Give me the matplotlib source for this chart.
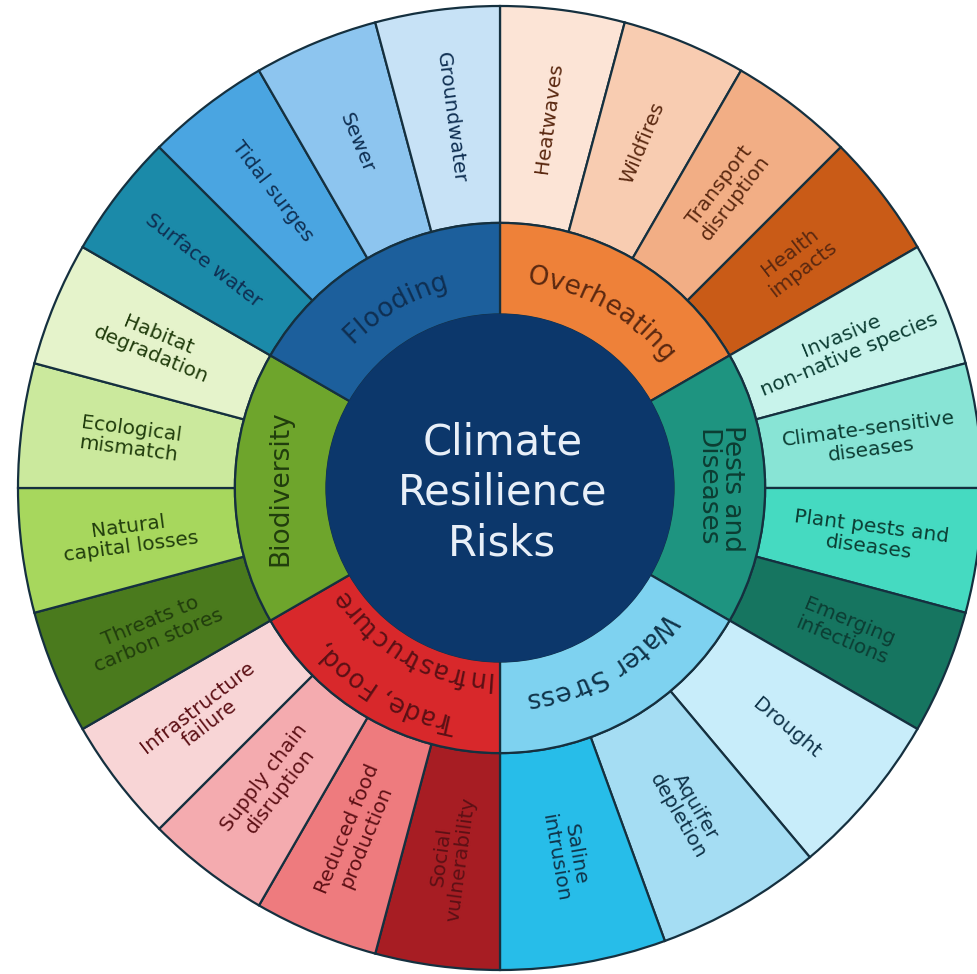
import numpy as np
import matplotlib
matplotlib.use("Agg")
import matplotlib.pyplot as plt
from matplotlib.font_manager import FontProperties
from matplotlib.textpath import TextToPath

# categories, clockwise from 12 o'clock
categories = ["Overheating", "Pests and\nDiseases", "Water Stress",
              "Trade, Food,\nInfrastructure", "Biodiversity", "Flooding"]
category_share = [1, 1, 1, 1, 1, 1]

risks = [
    ["Heatwaves", "Wildfires", "Transport\ndisruption", "Health\nimpacts"],
    ["Invasive\nnon-native species", "Climate-sensitive\ndiseases",
     "Plant pests and\ndiseases", "Emerging\ninfections"],
    ["Drought", "Aquifer\ndepletion", "Saline\nintrusion"],
    ["Social\nvulnerability", "Reduced food\nproduction", "Supply chain\ndisruption",
     "Infrastructure\nfailure"],
    ["Threats to\ncarbon stores", "Natural\ncapital losses", "Ecological\nmismatch",
     "Habitat\ndegradation"],
    ["Surface water", "Tidal surges", "Sewer", "Groundwater"],
]

cat_colors = ["#ee8139", "#1e9480", "#7ed2f0", "#d8282b", "#6ea52c", "#1c5f9c"]
risk_colors = [
    ["#fce4d6", "#f8ccb1", "#f2ae85", "#c95b17"],
    ["#c8f3eb", "#88e4d5", "#45dac1", "#167560"],
    ["#c8edfa", "#a5ddf3", "#27bde9"],
    ["#a71d23", "#ee7b7e", "#f4abaf", "#f8d5d6"],
    ["#4a7a1d", "#a7d75d", "#cbe99d", "#e5f3cb"],
    ["#1b8aa9", "#4aa5e1", "#8dc5ef", "#c7e2f6"],
]
text_colors = ["#5a2810", "#0c3d33", "#10344a", "#5c1015", "#213d0d", "#0f2f52"]
center_text = "Climate\nResilience\nRisks"

FONT = "DejaVu Sans"
EDGE = "#15303f"
R_OUT, R_MID, R_IN = 1.0, 0.55, 0.36
PX = 100 / 72 / 482.0  # points -> data units (outer radius = 482 px)

fig = plt.figure(figsize=(9.77, 9.74), dpi=100)
ax = fig.add_axes([0, 0, 1, 1])

flat_risks = [r for grp in risks for r in grp]
flat_cols = [c for grp in risk_colors for c in grp]
flat_vals = [category_share[i] / len(grp) for i, grp in enumerate(risks) for _ in grp]
flat_txt = [text_colors[i] for i, grp in enumerate(risks) for _ in grp]

outer, _ = ax.pie(flat_vals, radius=R_OUT, startangle=90, counterclock=False,
                  colors=flat_cols,
                  wedgeprops=dict(width=R_OUT - R_MID, edgecolor=EDGE, linewidth=1.6))
inner, _ = ax.pie(category_share, radius=R_MID, startangle=90, counterclock=False,
                  colors=cat_colors,
                  wedgeprops=dict(width=R_MID - R_IN, edgecolor=EDGE, linewidth=1.6))
ax.add_patch(plt.Circle((0, 0), R_IN, color="#0c376b", zorder=3))

# outer labels, laid along the radius
for w, lab, tc in zip(outer, flat_risks, flat_txt):
    mid = (w.theta1 + w.theta2) / 2
    a = np.deg2rad(mid)
    rot = mid if np.cos(a) > 1e-6 else mid - 180
    rot = (rot + 180) % 360 - 180
    r = 0.775
    ax.text(r * np.cos(a), r * np.sin(a), lab, rotation=rot, rotation_mode="anchor",
            ha="center", va="center", multialignment="center", fontsize=14.5,
            color=tc, family=FONT, linespacing=1.1, zorder=4)

ttp = TextToPath()


def text_w(s, prop):
    if not s.strip():
        return 0.0
    return ttp.get_text_width_height_descent(s, prop, ismath=False)[0]


def curved(s, r_center, mid, size, color):
    prop = FontProperties(family=FONT, size=size)
    total = text_w(s, prop) * PX
    r_base = r_center - 0.36 * size * PX
    for i, ch in enumerate(s):
        if ch == " ":
            continue
        c = text_w(s[:i + 1], prop) * PX - text_w(ch, prop) * PX / 2
        th = mid + np.rad2deg((total / 2 - c) / r_base)
        t = np.deg2rad(th)
        ax.text(r_base * np.cos(t), r_base * np.sin(t), ch, rotation=th - 90,
                rotation_mode="anchor", ha="center", va="baseline",
                fontproperties=prop, color=color, zorder=4)


# category labels
for w, lab, tc in zip(inner, categories, text_colors):
    mid = (w.theta1 + w.theta2) / 2
    a = np.deg2rad(mid)
    if abs(np.cos(a)) > 0.9:
        r = 0.455
        ax.text(r * np.cos(a), r * np.sin(a), lab, rotation=mid - 90,
                rotation_mode="anchor", ha="center", va="center", fontsize=19,
                color=tc, family=FONT, linespacing=1.0, zorder=4)
    else:
        lines = lab.split("\n")
        if len(lines) == 1:
            curved(lines[0], 0.447, mid, 19, tc)
        else:
            curved(lines[0], 0.500, mid, 18.5, tc)
            curved(lines[1], 0.402, mid, 18.5, tc)

ax.text(0.005, -0.01, center_text, ha="center", va="center", fontsize=30,
        color="#e8eff8", family=FONT, linespacing=1.25, zorder=5)

ax.set_xlim(-500 / 482, 477 / 482)
ax.set_ylim(-486 / 482, 488 / 482)
ax.set_aspect("equal")
ax.axis("off")
fig.savefig("out.png", dpi=100, facecolor="white")
